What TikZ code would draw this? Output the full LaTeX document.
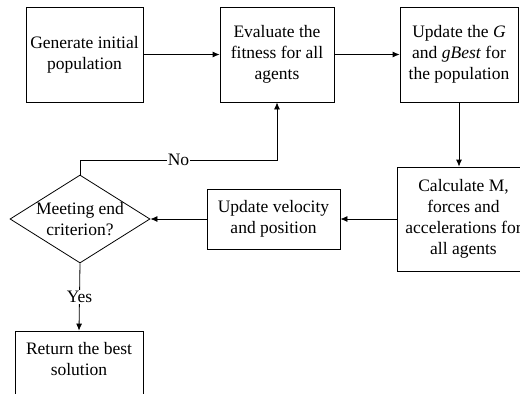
\documentclass[tikz,border=0pt]{standalone}
\usepackage{fontspec}
\setmainfont{Liberation Serif}
\usetikzlibrary{arrows.meta,shapes.geometric}
\begin{document}
\begin{tikzpicture}
  [x=1pt,y=-1pt,
   box/.style={draw,line width=0.8pt,inner sep=2pt,align=center,
     font=\fontsize{17.5}{21}\selectfont},
   txt/.style={inner sep=1pt,align=center,font=\fontsize{17.5}{21}\selectfont},
   decision/.style={draw,diamond,line width=0.8pt,inner sep=0pt,
     minimum width=140pt,minimum height=88pt},
   flow/.style={line width=0.8pt,-{Latex[length=7pt,width=6pt]}}]
  \clip (0,0) rectangle (520,394);

  \node[box,minimum width=117pt,minimum height=95pt] (gen) at (84.5,54.5) {Generate initial\\population};
  \node[box,minimum width=114pt,minimum height=95pt] (eval) at (277,54.5) {Evaluate the\\fitness for all\\agents};
  \node[box,minimum width=118pt,minimum height=95pt] (upd) at (459,54.5) {Update the \textit{G}\\and \textit{gBest} for\\the population};
  \node[box,minimum width=133pt,minimum height=104pt] (calc) at (463.5,219) {Calculate M,\\forces and\\accelerations for\\all agents};
  \node[box,minimum width=133pt,minimum height=60pt] (vel) at (273.5,219) {Update velocity\\and position};

  \node[decision] (meet) at (80,219) {};
  \node[txt] (meettext) at (80,219) {Meeting end\\criterion?};

  \node[box,minimum width=128pt,minimum height=70pt] (ret) at (79,366) {};
  \node[txt] (rettext) at (79,359) {Return the best\\solution};

  \coordinate (nobend) at (277,160);

  \draw[flow] (gen) -- (eval);
  \draw[flow] (eval) -- (upd);
  \draw[flow] (upd.south) -- (upd.south |- calc.north);
  \draw[flow] (calc) -- (vel);
  \draw[flow] (vel) -- (meet);
  \draw[flow] (meet.north) |- (nobend) node[txt,fill=white,pos=0.75] {No} -- (eval.south);
  \draw[flow] (meet.south) -- (ret.north) node[txt,fill=white,midway] {Yes};
\end{tikzpicture}
\end{document}
